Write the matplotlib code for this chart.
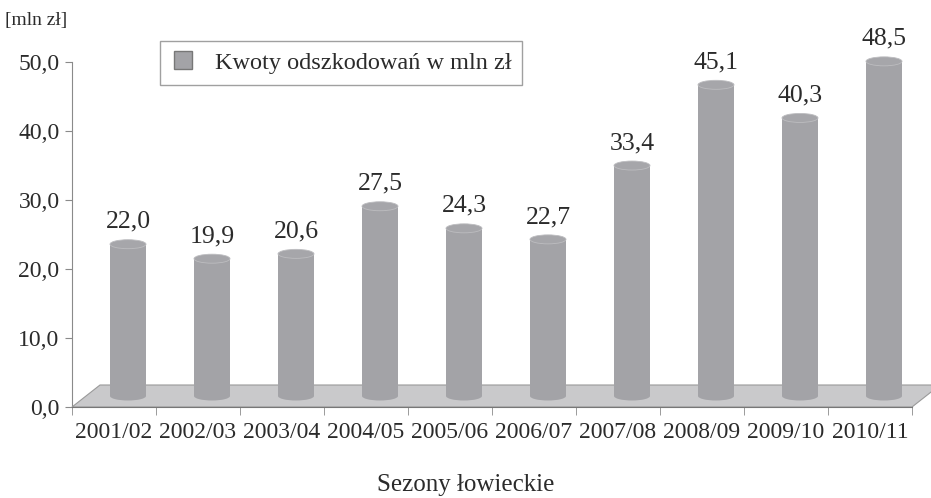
import matplotlib
matplotlib.use("Agg")
import matplotlib.pyplot as plt
from matplotlib.patches import Ellipse, Rectangle, Polygon
from matplotlib.lines import Line2D

plt.rcParams['font.family'] = ['Liberation Serif', 'DejaVu Serif']

seasons = ["2001/02", "2002/03", "2003/04", "2004/05", "2005/06",
           "2006/07", "2007/08", "2008/09", "2009/10", "2010/11"]
values = [22.0, 19.9, 20.6, 27.5, 24.3, 22.7, 33.4, 45.1, 40.3, 48.5]
yticks = [0, 10, 20, 30, 40, 50]
series_name = "Kwoty odszkodowań w mln zł"

W, H = 931, 498
fig = plt.figure(figsize=(W / 100, H / 100), dpi=100)
ax = fig.add_axes([72 / W, 1 - 407 / H, (912 - 72) / W, (407 - 62) / H])
ax.set_xlim(-0.5, len(seasons) - 0.5)
ax.set_ylim(0, 50)

txt = "#2b2b2b"
bar_col = "#a3a3a7"
floor_col = "#c9c9cb"
axis_col = "#8a8a8a"

# depth offsets (data units)
px_x = (912 - 72) / len(seasons)  # px per category
px_y = (407 - 62) / 50.0          # px per unit
dx_full, dy_full = 28 / px_x, 22 / px_y
dx, dy = dx_full / 2, dy_full / 2

# floor
x0, x1 = -0.5, len(seasons) - 0.5
floor = Polygon([(x0, 0), (x0 + dx_full, dy_full), (x1 + dx_full, dy_full), (x1, 0)],
                closed=True, facecolor=floor_col, edgecolor="#9a9a9a", lw=0.8,
                clip_on=False, zorder=1)
ax.add_patch(floor)

bw = 36 / px_x
eh = 9 / px_y
for i, v in enumerate(values):
    cx = i + dx
    base = dy
    top = v + dy
    ax.add_patch(Ellipse((cx, base), bw, eh, facecolor=bar_col, edgecolor="none",
                         clip_on=False, zorder=2))
    ax.add_patch(Rectangle((cx - bw / 2, base), bw, top - base, facecolor=bar_col,
                           edgecolor="none", clip_on=False, zorder=2))
    ax.add_patch(Ellipse((cx, top), bw, eh, facecolor="#a6a6aa", edgecolor="#bdbdc0",
                         lw=0.6, clip_on=False, zorder=3))
    ax.text(cx, top + eh / 2 + 1.0, f"{v:.1f}".replace(".", ","), ha="center",
            va="bottom", fontsize=18.5, color=txt, zorder=4)

for s in ["top", "right"]:
    ax.spines[s].set_visible(False)
ax.spines["left"].set_color(axis_col)
ax.spines["bottom"].set_color("#777777")
ax.spines["left"].set_zorder(0.5)

ax.set_yticks(yticks)
ax.set_yticklabels([f"{t:.1f}".replace(".", ",") for t in yticks], fontsize=17, color=txt)
ax.tick_params(axis="y", direction="out", length=5, color=axis_col, pad=4)

ax.set_xticks(range(len(seasons)))
ax.set_xticklabels(seasons, fontsize=17, color=txt)
ax.set_xticks([i - 0.5 for i in range(len(seasons) + 1)], minor=True)
ax.tick_params(axis="x", which="major", length=0, pad=11)
ax.tick_params(axis="x", which="minor", direction="out", length=6, color=axis_col)

fig.text(5 / W, 1 - 20 / H, "[mln zł]", fontsize=14, color=txt, va="center", ha="left")
fig.text(466 / W, 1 - 485 / H, "Sezony łowieckie", fontsize=18, color=txt,
         va="center", ha="center")

handle = Line2D([], [], marker="s", color="none", markerfacecolor=bar_col,
                markeredgecolor="#777777", markersize=13, lw=0)
leg = fig.legend([handle], [series_name], loc="upper left",
                 bbox_to_anchor=(160 / W, 1 - 41 / H), fontsize=17.5, frameon=True,
                 fancybox=False, edgecolor="#888888", handlelength=1.0,
                 handletextpad=0.8, borderpad=0.45, borderaxespad=0)
for t in leg.get_texts():
    t.set_color(txt)

fig.savefig("out.png", dpi=100)
